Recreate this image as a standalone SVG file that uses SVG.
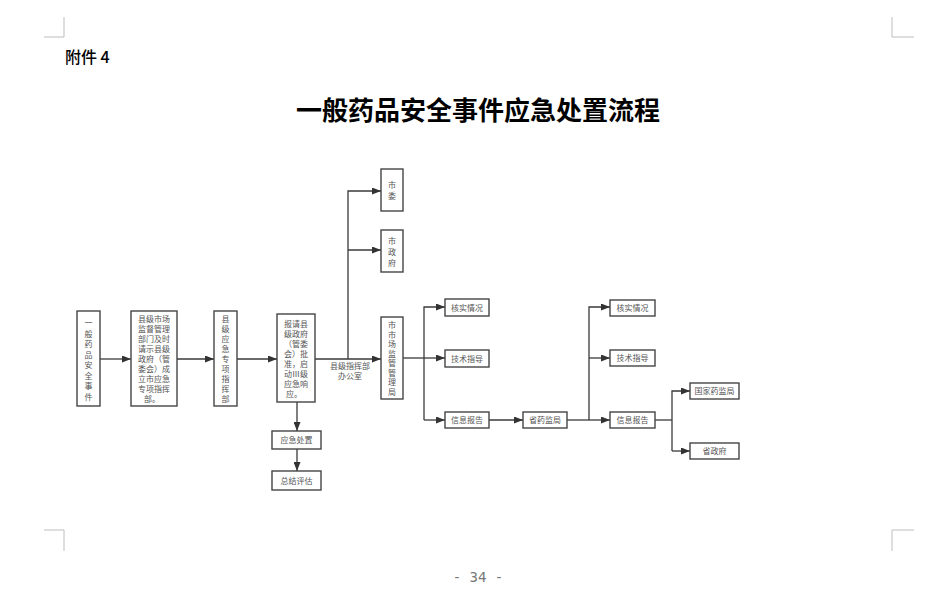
<svg xmlns="http://www.w3.org/2000/svg" width="944" height="614" viewBox="0 0 944 614">
<defs>
<style>
.box{fill:#fff;stroke:#454545;stroke-width:1.4}
.t{font-family:"Noto Sans CJK SC","Liberation Sans",sans-serif;font-size:8px;fill:#555;text-anchor:middle}
.ln{fill:none;stroke:#3a3a3a;stroke-width:1.3}
.crop{fill:none;stroke:#bdbdbd;stroke-width:1}
</style>
<marker id="ar" markerWidth="9" markerHeight="7" refX="9" refY="3.5" orient="auto" markerUnits="userSpaceOnUse">
<path d="M0,0 L9,3.5 L0,7 z" fill="#333"/>
</marker>
</defs>
<rect width="944" height="614" fill="#fff"/>
<g id="cropmarks">
<path class="crop" d="M64,17 V37 H44"/>
<path class="crop" d="M892,17 V37 H914"/>
<path class="crop" d="M44,530 H64 V551"/>
<path class="crop" d="M914,530 H892 V551"/>
</g>
<text x="65" y="63" font-family="Noto Sans CJK SC,sans-serif" font-size="16" font-weight="500" fill="#000">附件 4</text>
<text x="478" y="120" font-family="Noto Sans CJK SC,sans-serif" font-size="26" font-weight="bold" fill="#000" text-anchor="middle">一般药品安全事件应急处置流程</text>
<text x="478" y="582" font-family="DejaVu Sans Mono,monospace" font-size="14" fill="#777" text-anchor="middle">- 34 -</text>

<g id="connectors">
<path class="ln" d="M100,359 H131" marker-end="url(#ar)"/>
<path class="ln" d="M177,359 H214" marker-end="url(#ar)"/>
<path class="ln" d="M237,359 H277" marker-end="url(#ar)"/>
<path class="ln" d="M315,359 H381" marker-end="url(#ar)"/>
<path class="ln" d="M348,359 V191 H381" marker-end="url(#ar)"/>
<path class="ln" d="M348,250 H381" marker-end="url(#ar)"/>
<path class="ln" d="M297,402 V431" marker-end="url(#ar)"/>
<path class="ln" d="M297,449 V471" marker-end="url(#ar)"/>
<path class="ln" d="M403,358 H424"/>
<path class="ln" d="M424,420 V307 H445" marker-end="url(#ar)"/>
<path class="ln" d="M424,358 H445" marker-end="url(#ar)"/>
<path class="ln" d="M424,420 H445" marker-end="url(#ar)"/>
<path class="ln" d="M489,420 H523" marker-end="url(#ar)"/>
<path class="ln" d="M567,420 H589"/>
<path class="ln" d="M589,420 V307 H610" marker-end="url(#ar)"/>
<path class="ln" d="M589,358 H610" marker-end="url(#ar)"/>
<path class="ln" d="M589,420 H610" marker-end="url(#ar)"/>
<path class="ln" d="M655,420 H672"/>
<path class="ln" d="M672,451 V391 H690" marker-end="url(#ar)"/>
<path class="ln" d="M672,451 H690" marker-end="url(#ar)"/>
<text class="t" x="350" y="369">县级指挥部</text>
<text class="t" x="350" y="379">办公室</text>
</g>

<g id="n1">
<rect class="box" x="77" y="311" width="23" height="95"/>
<text class="t" x="88.5" y="326">一</text>
<text class="t" x="88.5" y="336.5">般</text>
<text class="t" x="88.5" y="347">药</text>
<text class="t" x="88.5" y="357.5">品</text>
<text class="t" x="88.5" y="368">安</text>
<text class="t" x="88.5" y="378.5">全</text>
<text class="t" x="88.5" y="389">事</text>
<text class="t" x="88.5" y="399.5">件</text>
</g>
<g id="n2">
<rect class="box" x="131" y="311" width="46" height="95"/>
<text class="t" x="154" y="322">县级市场</text>
<text class="t" x="154" y="332">监督管理</text>
<text class="t" x="154" y="342">部门及时</text>
<text class="t" x="154" y="352">请示县级</text>
<text class="t" x="154" y="362">政府（管</text>
<text class="t" x="154" y="372">委会）成</text>
<text class="t" x="154" y="382">立市应急</text>
<text class="t" x="154" y="392">专项指挥</text>
<text class="t" x="152" y="402">部。</text>
</g>
<g id="n3">
<rect class="box" x="214" y="311" width="23" height="95"/>
<text class="t" x="225.5" y="322">县</text>
<text class="t" x="225.5" y="332">级</text>
<text class="t" x="225.5" y="342">应</text>
<text class="t" x="225.5" y="352">急</text>
<text class="t" x="225.5" y="362">专</text>
<text class="t" x="225.5" y="372">项</text>
<text class="t" x="225.5" y="382">指</text>
<text class="t" x="225.5" y="392">挥</text>
<text class="t" x="225.5" y="402">部</text>
</g>
<g id="n4">
<rect class="box" x="277" y="314" width="38" height="88"/>
<text class="t" x="296" y="327">报请县</text>
<text class="t" x="296" y="337">级政府</text>
<text class="t" x="296" y="347">（管委</text>
<text class="t" x="296" y="357">会）批</text>
<text class="t" x="296" y="367">准，启</text>
<text class="t" x="296" y="377">动Ⅲ级</text>
<text class="t" x="296" y="387">应急响</text>
<text class="t" x="294" y="397">应。</text>
</g>
<g id="n5">
<rect class="box" x="381" y="317" width="22" height="82"/>
<text class="t" x="392" y="328">市</text>
<text class="t" x="392" y="337.5">市</text>
<text class="t" x="392" y="347">场</text>
<text class="t" x="392" y="356.5">监</text>
<text class="t" x="392" y="366">管</text>
<text class="t" x="392" y="375.5">管</text>
<text class="t" x="392" y="385">理</text>
<text class="t" x="392" y="394.5">局</text>
</g>
<g id="n6">
<rect class="box" x="381" y="169" width="22" height="42"/>
<text class="t" x="392" y="188">市</text>
<text class="t" x="392" y="199">委</text>
</g>
<g id="n7">
<rect class="box" x="381" y="230" width="22" height="42"/>
<text class="t" x="392" y="244">市</text>
<text class="t" x="392" y="255">政</text>
<text class="t" x="392" y="266">府</text>
</g>
<g id="n8">
<rect class="box" x="272" y="431" width="49" height="18"/>
<text class="t" x="296.5" y="443">应急处置</text>
</g>
<g id="n9">
<rect class="box" x="272" y="471" width="49" height="19"/>
<text class="t" x="296.5" y="483.5">总结评估</text>
</g>
<g id="n10">
<rect class="box" x="445" y="299" width="44" height="17"/>
<text class="t" x="467" y="310.5">核实情况</text>
</g>
<g id="n11">
<rect class="box" x="445" y="350" width="44" height="17"/>
<text class="t" x="467" y="361.5">技术指导</text>
</g>
<g id="n12">
<rect class="box" x="445" y="412" width="44" height="16"/>
<text class="t" x="467" y="423">信息报告</text>
</g>
<g id="n13">
<rect class="box" x="523" y="412" width="44" height="16"/>
<text class="t" x="545" y="423">省药监局</text>
</g>
<g id="n14">
<rect class="box" x="610" y="300" width="45" height="16"/>
<text class="t" x="632.5" y="311">核实情况</text>
</g>
<g id="n15">
<rect class="box" x="610" y="350" width="45" height="16"/>
<text class="t" x="632.5" y="361">技术指导</text>
</g>
<g id="n16">
<rect class="box" x="610" y="412" width="45" height="16"/>
<text class="t" x="632.5" y="423">信息报告</text>
</g>
<g id="n17">
<rect class="box" x="690" y="383" width="49" height="16"/>
<text class="t" x="714.5" y="394">国家药监局</text>
</g>
<g id="n18">
<rect class="box" x="690" y="443" width="49" height="16"/>
<text class="t" x="714.5" y="454">省政府</text>
</g>
</svg>
